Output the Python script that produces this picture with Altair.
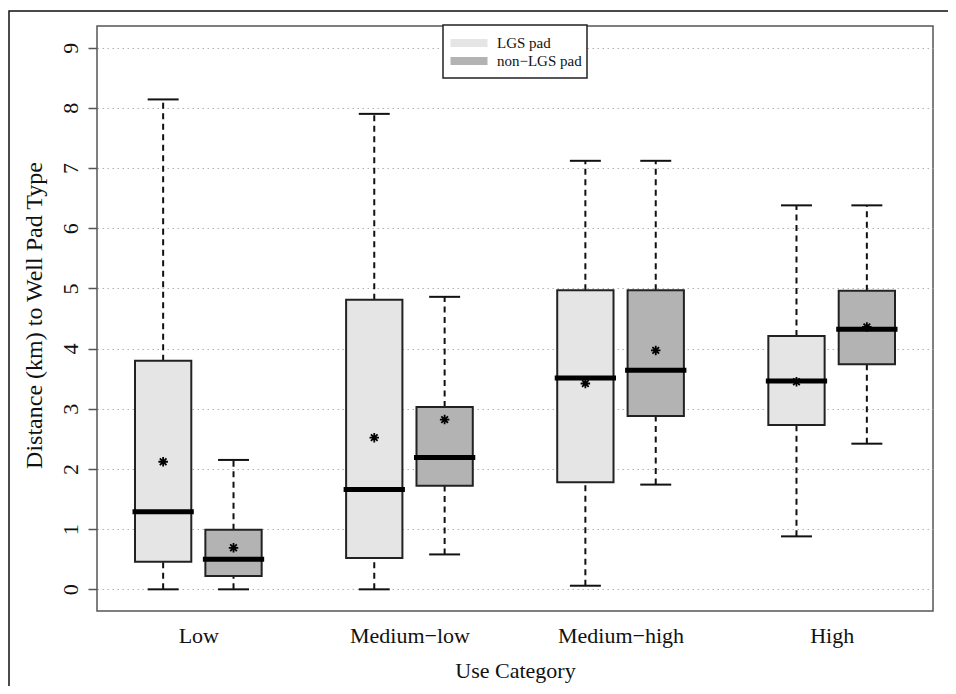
import altair as alt
import pandas as pd

# ---- data ----
categories = ["Low", "Medium\u2212low", "Medium\u2212high", "High"]
pad_types = ["LGS pad", "non\u2212LGS pad"]
pad_colors = ["#e5e5e5", "#b3b3b3"]

lgs_whisker_low = [0.0, 0.0, 0.06, 0.88]
lgs_q1 = [0.46, 0.52, 1.78, 2.73]
lgs_median = [1.29, 1.66, 3.51, 3.46]
lgs_q3 = [3.80, 4.81, 4.97, 4.21]
lgs_whisker_high = [8.14, 7.90, 7.12, 6.38]
lgs_mean = [2.12, 2.52, 3.42, 3.45]

non_whisker_low = [0.0, 0.58, 1.74, 2.42]
non_q1 = [0.22, 1.72, 2.88, 3.74]
non_median = [0.50, 2.19, 3.64, 4.32]
non_q3 = [0.99, 3.03, 4.97, 4.96]
non_whisker_high = [2.15, 4.86, 7.12, 6.38]
non_mean = [0.69, 2.82, 3.97, 4.36]

y_ticks = list(range(10))

# ---- build table ----
rows = []
series = [
    (lgs_whisker_low, lgs_q1, lgs_median, lgs_q3, lgs_whisker_high, lgs_mean),
    (non_whisker_low, non_q1, non_median, non_q3, non_whisker_high, non_mean),
]
for j, (wl, q1, md, q3, wh, mn) in enumerate(series):
    for i, cat in enumerate(categories):
        rows.append(dict(category=cat, pad=pad_types[j], pos=3 * i + 1 + j,
                         wlow=wl[i], q1=q1[i], median=md[i], q3=q3[i],
                         whigh=wh[i], mean=mn[i]))
df = pd.DataFrame(rows)

FONT = "Liberation Serif"
label_expr = "[" + ",".join("'%s'" % c for c in categories) + "][round((datum.value-1.5)/3)]"

xscale = alt.Scale(domain=[0.06, 11.94], nice=False, zero=False)
yscale = alt.Scale(domain=[-0.36, 9.36], nice=False, zero=False)
color_scale = alt.Scale(domain=pad_types, range=pad_colors)

x_axis = alt.Axis(values=[1.5, 4.5, 7.5, 10.5], labelExpr=label_expr, ticks=False,
                  domain=False, grid=False, labelFont=FONT, labelFontSize=22,
                  labelColor="#111", labelPadding=14, labelFlush=False,
                  labelOverlap=False, title="Use Category", titleFont=FONT,
                  titleFontSize=22, titleFontWeight="normal", titleColor="#111",
                  titleY=66, titleBaseline="alphabetic")
y_axis = alt.Axis(values=y_ticks, tickSize=9, tickColor="#555", tickWidth=1.5,
                  domain=False, grid=True, gridDash=[1.5, 3.5], gridColor="#b0b0b0",
                  gridWidth=1, labelAngle=270, labelFont=FONT, labelFontSize=22,
                  labelColor="#111", labelPadding=11, labelAlign="center",
                  labelBaseline="alphabetic",
                  title="Distance (km) to Well Pad Type", titleFont=FONT,
                  titleFontSize=24, titleFontWeight="normal", titleColor="#111",
                  titleAngle=270, titleX=-56, titleY=289, titleAlign="center",
                  titleBaseline="alphabetic")


def X(field):
    return alt.X(field, scale=xscale, axis=x_axis)


def Y(field):
    return alt.Y(field, scale=yscale, axis=y_axis)


base = alt.Chart(df).transform_calculate(
    xl="datum.pos - 0.4", xr="datum.pos + 0.4",
    cl="datum.pos - 0.22", cr="datum.pos + 0.22")

whisk_hi = base.mark_rule(color="#111", strokeWidth=2, strokeDash=[6, 4.5]).encode(
    x=X("pos:Q"), y=Y("q3:Q"), y2="whigh:Q")
whisk_lo = base.mark_rule(color="#111", strokeWidth=2, strokeDash=[6, 4.5]).encode(
    x=X("pos:Q"), y=Y("wlow:Q"), y2="q1:Q")
cap_hi = base.mark_rule(color="#111", strokeWidth=2).encode(
    x=X("cl:Q"), x2="cr:Q", y=Y("whigh:Q"))
cap_lo = base.mark_rule(color="#111", strokeWidth=2).encode(
    x=X("cl:Q"), x2="cr:Q", y=Y("wlow:Q"))
boxes = base.mark_rect(stroke="#222", strokeWidth=2).encode(
    x=X("xl:Q"), x2="xr:Q", y=Y("q1:Q"), y2="q3:Q",
    fill=alt.Fill("pad:N", scale=color_scale, legend=None))
medians = base.mark_rule(color="#000", strokeWidth=5, strokeCap="square").encode(
    x=X("xl:Q"), x2="xr:Q", y=Y("median:Q"))
# R pch = 8: a "+" overlaid with an "x"
star = "M0,-1L0,1M-1,0L1,0M-0.7,-0.7L0.7,0.7M-0.7,0.7L0.7,-0.7"
means = base.mark_point(shape=star, size=90, stroke="#000", strokeWidth=1.8,
                        filled=False, opacity=1).encode(
    x=X("pos:Q"), y=Y("mean:Q"))

# ---- legend (drawn manually, in pixel positions) ----
leg_df = pd.DataFrame({"pad": pad_types, "row": [0, 1]})
leg_base = alt.Chart(leg_df).transform_calculate(ly="17 + datum.row * 18")
leg_box = alt.Chart(pd.DataFrame({"a": [0]})).mark_rect(
    fill="white", stroke="#222", strokeWidth=1.5).encode(
    x=alt.value(346), x2=alt.value(490), y=alt.value(-1), y2=alt.value(52))
leg_sw = leg_base.mark_rect(height=8, width=37).encode(
    x=alt.value(372), y=alt.Y("ly:Q", scale=None, axis=None),
    fill=alt.Fill("pad:N", scale=color_scale, legend=None))
leg_tx = leg_base.mark_text(align="left", baseline="middle", font=FONT,
                            fontSize=15, color="#111").encode(
    x=alt.value(400), y=alt.Y("ly:Q", scale=None, axis=None), text="pad:N")

# ---- outer figure border (only left and top edges fall inside the canvas) ----
outer = alt.Chart(pd.DataFrame({"a": [0]})).mark_rect(
    fill=None, stroke="#111", strokeWidth=1.5).encode(
    x=alt.value(-88), x2=alt.value(900), y=alt.value(-15), y2=alt.value(720))

chart = alt.layer(
    whisk_hi, whisk_lo, cap_hi, cap_lo, boxes, medians, means,
    leg_box, leg_sw, leg_tx, outer
).properties(
    width=836, height=585, autosize="none", background="white",
    padding={"left": 89, "top": 18, "right": 15, "bottom": 75}
).configure_view(stroke="#555", strokeWidth=1.5)

chart.save("out.html", embed_options={"renderer": "svg", "actions": False})
